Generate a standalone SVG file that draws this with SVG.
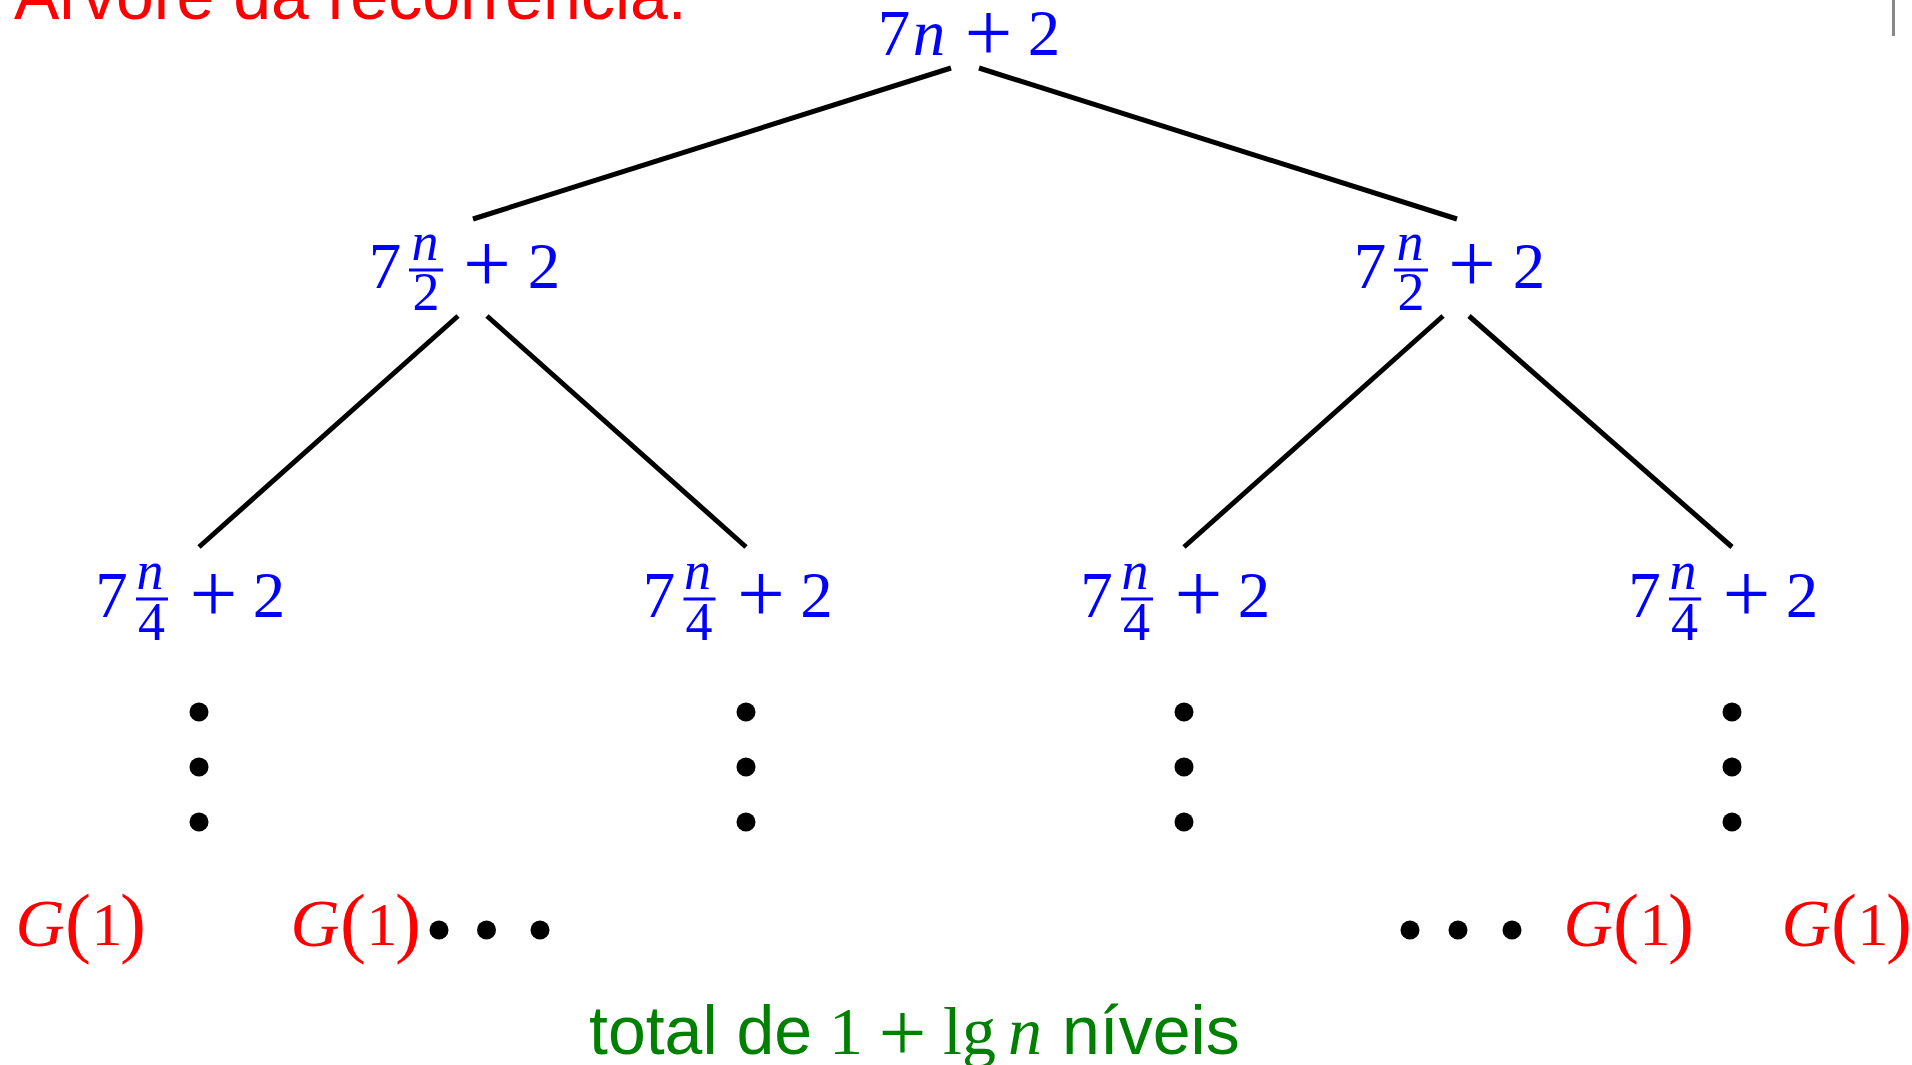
<svg xmlns="http://www.w3.org/2000/svg" width="1912" height="1065" viewBox="0 0 1912 1065">
<style>
.sans{font-family:"Liberation Sans",Arial,sans-serif;font-size:68px}
.m{font-family:"Liberation Serif","Times New Roman",serif;font-size:65px;fill:#0000ff;text-anchor:middle}
.i{font-style:italic}
.s{font-size:54px}
.p{font-size:85px}
.bar{fill:#0000ff}
.g{font-family:"Liberation Serif","Times New Roman",serif;fill:#ff0000;text-anchor:middle}
.gG{font-size:68px;font-style:italic}
.gP{font-size:78px}
.g1{font-size:62px}
.ln{stroke:#000;stroke-width:5;fill:none}
.dot{fill:#000}
.gr{fill:#008000}
.grm{font-family:"Liberation Serif","Times New Roman",serif;font-size:68px;fill:#008000}
.grp{font-size:85px}
</style>
<rect width="1912" height="1065" fill="#ffffff"/>
<text class="sans" x="14" y="19" fill="#ff0000">Árvore da recorrência:</text>
<rect x="1892" y="0" width="3" height="36" fill="#888888"/>

<g id="connectors">
<line class="ln" x1="951" y1="68" x2="473" y2="219"/>
<line class="ln" x1="979" y1="68" x2="1457" y2="219"/>
<line class="ln" x1="458" y1="316" x2="199" y2="547"/>
<line class="ln" x1="487" y1="316" x2="746" y2="547"/>
<line class="ln" x1="1443" y1="316" x2="1184" y2="547"/>
<line class="ln" x1="1469" y1="316" x2="1732" y2="547"/>
</g>

<g id="root">
<text class="m" x="894" y="55">7</text>
<text class="m i" x="929" y="55">n</text>
<text class="m p" x="988.5" y="60.5">+</text>
<text class="m" x="1044" y="55">2</text>
</g>

<g id="n-left">
<text class="m" x="385" y="288">7</text>
<text class="m i s" x="425" y="260">n</text>
<rect class="bar" x="409" y="268.5" width="34" height="3"/>
<text class="m s" x="426" y="310">2</text>
<text class="m p" x="487" y="291.5">+</text>
<text class="m" x="544" y="288">2</text>
</g>

<g id="n-right" transform="translate(985,0)">
<text class="m" x="385" y="288">7</text>
<text class="m i s" x="425" y="260">n</text>
<rect class="bar" x="409" y="268.5" width="34" height="3"/>
<text class="m s" x="426" y="310">2</text>
<text class="m p" x="487" y="291.5">+</text>
<text class="m" x="544" y="288">2</text>
</g>

<g id="n-ll">
<text class="m" x="111.5" y="617">7</text>
<text class="m i s" x="150" y="589">n</text>
<rect class="bar" x="136" y="597.5" width="32" height="3"/>
<text class="m s" x="151.5" y="640">4</text>
<text class="m p" x="213.5" y="621.5">+</text>
<text class="m" x="269" y="617">2</text>
</g>

<g id="n-lr" transform="translate(547.5,0)">
<text class="m" x="111.5" y="617">7</text>
<text class="m i s" x="150" y="589">n</text>
<rect class="bar" x="136" y="597.5" width="32" height="3"/>
<text class="m s" x="151.5" y="640">4</text>
<text class="m p" x="213.5" y="621.5">+</text>
<text class="m" x="269" y="617">2</text>
</g>

<g id="n-rl" transform="translate(985,0)">
<text class="m" x="111.5" y="617">7</text>
<text class="m i s" x="150" y="589">n</text>
<rect class="bar" x="136" y="597.5" width="32" height="3"/>
<text class="m s" x="151.5" y="640">4</text>
<text class="m p" x="213.5" y="621.5">+</text>
<text class="m" x="269" y="617">2</text>
</g>

<g id="n-rr" transform="translate(1533,0)">
<text class="m" x="111.5" y="617">7</text>
<text class="m i s" x="150" y="589">n</text>
<rect class="bar" x="136" y="597.5" width="32" height="3"/>
<text class="m s" x="151.5" y="640">4</text>
<text class="m p" x="213.5" y="621.5">+</text>
<text class="m" x="269" y="617">2</text>
</g>

<g id="vdots">
<circle class="dot" cx="199" cy="712" r="9.5"/><circle class="dot" cx="199" cy="767" r="9.5"/><circle class="dot" cx="199" cy="822" r="9.5"/>
<circle class="dot" cx="746" cy="712" r="9.5"/><circle class="dot" cx="746" cy="767" r="9.5"/><circle class="dot" cx="746" cy="822" r="9.5"/>
<circle class="dot" cx="1184" cy="712" r="9.5"/><circle class="dot" cx="1184" cy="767" r="9.5"/><circle class="dot" cx="1184" cy="822" r="9.5"/>
<circle class="dot" cx="1732" cy="712" r="9.5"/><circle class="dot" cx="1732" cy="767" r="9.5"/><circle class="dot" cx="1732" cy="822" r="9.5"/>
</g>

<g id="hdots">
<circle class="dot" cx="439" cy="930" r="9.5"/><circle class="dot" cx="486.5" cy="930" r="9.5"/><circle class="dot" cx="540" cy="930" r="9.5"/>
<circle class="dot" cx="1410" cy="930" r="9.5"/><circle class="dot" cx="1458" cy="930" r="9.5"/><circle class="dot" cx="1512" cy="930" r="9.5"/>
</g>

<g id="leaf1">
<text class="g gG" x="40" y="946">G</text><text class="g gP" x="78" y="948">(</text><text class="g g1" x="107" y="945">1</text><text class="g gP" x="133" y="948">)</text>
</g>
<g id="leaf2" transform="translate(275,0)">
<text class="g gG" x="40" y="946">G</text><text class="g gP" x="78" y="948">(</text><text class="g g1" x="107" y="945">1</text><text class="g gP" x="133" y="948">)</text>
</g>
<g id="leaf3" transform="translate(1548,0)">
<text class="g gG" x="40" y="946">G</text><text class="g gP" x="78" y="948">(</text><text class="g g1" x="107" y="945">1</text><text class="g gP" x="133" y="948">)</text>
</g>
<g id="leaf4" transform="translate(1766,0)">
<text class="g gG" x="40" y="946">G</text><text class="g gP" x="78" y="948">(</text><text class="g g1" x="107" y="945">1</text><text class="g gP" x="133" y="948">)</text>
</g>

<g id="caption">
<text class="sans gr" x="589" y="1054">total de</text>
<text class="grm" x="846" y="1054" text-anchor="middle">1</text>
<text class="grm grp" x="902.5" y="1060.5" text-anchor="middle">+</text>
<text class="grm" x="943" y="1054">lg</text>
<text class="grm i" x="1025" y="1054" text-anchor="middle">n</text>
<text class="sans gr" x="1062" y="1054">níveis</text>
</g>
</svg>
